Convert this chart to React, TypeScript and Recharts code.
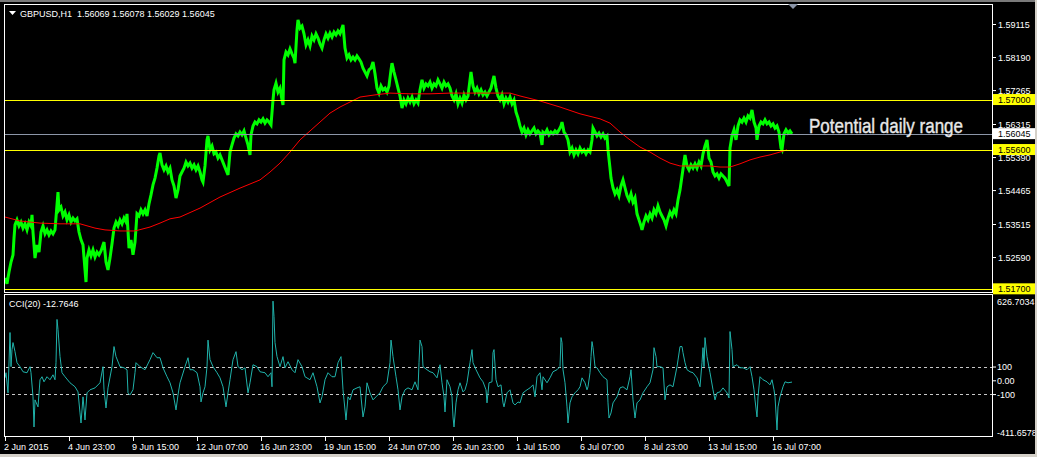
import { ComposedChart, Line, XAxis, YAxis, ReferenceLine } from 'recharts';

// GBPUSD H1 — bar offset (hours on chart) and close price
const priceBars: [number, number][] = [
  [5, 1.52], [7, 1.5184], [9, 1.5217], [11, 1.5245], [13, 1.5265], [14, 1.5312], [15, 1.5349], [17, 1.5363],
  [19, 1.5346], [21, 1.5357], [23, 1.534], [25, 1.5352], [27, 1.5335], [29, 1.5357], [31, 1.5346], [32, 1.5377],
  [33, 1.5329], [35, 1.5256], [37, 1.5293], [39, 1.5273], [41, 1.5329], [43, 1.5346], [45, 1.5324], [47, 1.5335],
  [49, 1.5321], [51, 1.5332], [53, 1.5324], [55, 1.5335], [57, 1.5405], [58, 1.5441], [59, 1.5391], [61, 1.5399],
  [63, 1.5374], [65, 1.5385], [67, 1.5363], [69, 1.5377], [71, 1.5357], [73, 1.5368], [75, 1.536], [77, 1.5366],
  [79, 1.5329], [81, 1.5307], [83, 1.5293], [85, 1.5223], [86, 1.5189], [87, 1.5256], [89, 1.5279], [91, 1.5262],
  [93, 1.5279], [95, 1.5259], [97, 1.5273], [99, 1.5265], [101, 1.5276], [103, 1.5293], [104, 1.5301], [106, 1.5245],
  [108, 1.5223], [110, 1.5256], [112, 1.5296], [114, 1.534], [116, 1.5357], [118, 1.5346], [120, 1.5363], [122, 1.5352],
  [124, 1.5368], [126, 1.5357], [127, 1.538], [129, 1.5284], [131, 1.5307], [133, 1.5265], [135, 1.5301], [137, 1.538],
  [139, 1.5374], [141, 1.5391], [143, 1.538], [145, 1.5391], [147, 1.5374], [149, 1.5408], [151, 1.5433], [153, 1.5461],
  [155, 1.548], [157, 1.5508], [159, 1.5542], [160, 1.555], [162, 1.5517], [164, 1.5503], [166, 1.5514], [168, 1.5497],
  [170, 1.5508], [172, 1.5475], [174, 1.5458], [176, 1.5424], [178, 1.5447], [180, 1.5486], [182, 1.5497], [184, 1.5508],
  [186, 1.5525], [188, 1.5514], [190, 1.5522], [192, 1.5508], [194, 1.5517], [196, 1.5503], [198, 1.5514], [200, 1.5497],
  [202, 1.5475], [203, 1.5469], [205, 1.5514], [207, 1.5587], [208, 1.5598], [210, 1.5559], [212, 1.557], [214, 1.5548],
  [216, 1.5553], [218, 1.5536], [220, 1.5545], [222, 1.5531], [224, 1.5517], [226, 1.5503], [228, 1.5489], [230, 1.5553],
  [232, 1.5573], [234, 1.5592], [236, 1.5604], [238, 1.5598], [240, 1.5609], [242, 1.5601], [244, 1.5612], [246, 1.5592],
  [248, 1.5573], [250, 1.5545], [251, 1.5601], [253, 1.5626], [255, 1.5637], [257, 1.5632], [259, 1.5643], [261, 1.5637],
  [263, 1.5646], [265, 1.5634], [267, 1.5643], [269, 1.5637], [271, 1.5629], [273, 1.5699], [274, 1.5727], [276, 1.5746],
  [278, 1.5721], [280, 1.5732], [282, 1.5699], [283, 1.5685], [284, 1.5811], [286, 1.5833], [288, 1.5825], [290, 1.5842],
  [292, 1.5828], [294, 1.5816], [295, 1.5802], [297, 1.5895], [298, 1.5923], [300, 1.59], [302, 1.5906], [304, 1.5884],
  [306, 1.5853], [308, 1.5867], [310, 1.585], [312, 1.5878], [314, 1.5867], [316, 1.5884], [318, 1.5872], [320, 1.5856],
  [322, 1.5844], [324, 1.5867], [326, 1.5884], [328, 1.5872], [330, 1.5886], [332, 1.5875], [334, 1.5889], [336, 1.5881],
  [338, 1.5892], [340, 1.5884], [342, 1.59], [343, 1.5909], [345, 1.5844], [347, 1.5816], [349, 1.5825], [351, 1.5811],
  [353, 1.5819], [355, 1.5811], [357, 1.5822], [359, 1.5814], [361, 1.5805], [363, 1.5788], [365, 1.5777], [367, 1.5766],
  [369, 1.5783], [371, 1.5788], [373, 1.5805], [375, 1.5772], [377, 1.5732], [379, 1.5718], [381, 1.5738], [383, 1.5727],
  [385, 1.5732], [387, 1.5721], [389, 1.5738], [391, 1.5783], [392, 1.5802], [394, 1.5777], [396, 1.5755], [398, 1.5732],
  [400, 1.571], [402, 1.5676], [404, 1.5699], [406, 1.5688], [408, 1.5704], [410, 1.5693], [412, 1.5707], [414, 1.5688],
  [416, 1.5699], [418, 1.569], [420, 1.5727], [422, 1.5755], [424, 1.5732], [426, 1.5744], [428, 1.5738], [430, 1.5749],
  [432, 1.5732], [434, 1.5744], [436, 1.5738], [438, 1.5755], [440, 1.5744], [442, 1.5732], [444, 1.5749], [446, 1.5738],
  [448, 1.5744], [450, 1.5732], [452, 1.571], [454, 1.5699], [456, 1.5716], [458, 1.5688], [460, 1.5704], [462, 1.569],
  [464, 1.5713], [466, 1.5699], [468, 1.571], [470, 1.5755], [471, 1.5777], [473, 1.5738], [475, 1.5721], [477, 1.5732],
  [479, 1.5716], [481, 1.5727], [483, 1.5713], [485, 1.5721], [487, 1.571], [489, 1.5721], [491, 1.5732], [493, 1.5755],
  [494, 1.5766], [496, 1.5732], [498, 1.571], [500, 1.5699], [502, 1.5713], [504, 1.5688], [506, 1.5704], [508, 1.5693],
  [510, 1.5707], [512, 1.5688], [514, 1.5699], [516, 1.5665], [518, 1.5648], [520, 1.5626], [522, 1.5609], [524, 1.562],
  [526, 1.5601], [528, 1.5615], [530, 1.5604], [532, 1.5612], [534, 1.562], [536, 1.5604], [538, 1.5612], [540, 1.5606],
  [542, 1.5573], [543, 1.5609], [545, 1.5604], [547, 1.5615], [549, 1.5601], [551, 1.5609], [553, 1.5604], [555, 1.5612],
  [557, 1.5606], [559, 1.5615], [561, 1.5626], [562, 1.5637], [564, 1.5609], [566, 1.5601], [568, 1.5587], [570, 1.5553],
  [572, 1.5564], [574, 1.5545], [576, 1.5559], [578, 1.5548], [580, 1.5564], [582, 1.5553], [584, 1.5559], [586, 1.5548],
  [588, 1.5559], [590, 1.5553], [592, 1.5587], [593, 1.562], [595, 1.5609], [597, 1.5598], [599, 1.5606], [601, 1.5595],
  [603, 1.5604], [605, 1.5592], [607, 1.5598], [608, 1.5559], [610, 1.5508], [611, 1.548], [613, 1.5453], [615, 1.5436],
  [617, 1.5447], [619, 1.5431], [621, 1.5458], [623, 1.5475], [625, 1.5453], [627, 1.5431], [629, 1.5419], [631, 1.5436],
  [633, 1.5413], [635, 1.5425], [637, 1.538], [639, 1.5363], [641, 1.5346], [642, 1.5335], [644, 1.5357], [646, 1.5374],
  [648, 1.5363], [650, 1.538], [652, 1.5368], [654, 1.5391], [656, 1.538], [658, 1.5402], [660, 1.5385], [662, 1.5374],
  [664, 1.5363], [666, 1.5346], [668, 1.5368], [670, 1.5385], [672, 1.5374], [674, 1.5391], [676, 1.538], [678, 1.5419],
  [680, 1.5447], [682, 1.5486], [684, 1.5525], [685, 1.5545], [687, 1.5514], [689, 1.5503], [691, 1.5517], [693, 1.5508],
  [695, 1.552], [697, 1.5508], [699, 1.5525], [701, 1.5514], [703, 1.5548], [705, 1.557], [707, 1.5587], [709, 1.5536],
  [711, 1.5525], [713, 1.5497], [715, 1.5486], [717, 1.5492], [719, 1.548], [721, 1.5492], [723, 1.5486], [725, 1.548],
  [727, 1.5469], [729, 1.5458], [730, 1.5564], [732, 1.5598], [734, 1.5615], [736, 1.5587], [738, 1.5626], [740, 1.5643],
  [742, 1.5637], [744, 1.5648], [746, 1.5637], [748, 1.5654], [750, 1.5648], [752, 1.5671], [754, 1.5637], [756, 1.562],
  [757, 1.5587], [759, 1.5626], [761, 1.5637], [763, 1.5632], [765, 1.5643], [767, 1.5632], [769, 1.5637], [771, 1.5626],
  [773, 1.5632], [775, 1.562], [777, 1.5626], [779, 1.5609], [781, 1.5564], [782, 1.5559], [784, 1.5604], [786, 1.5615],
  [788, 1.5606], [790, 1.5612], [792, 1.5604],
];

// red moving average
const maBars: [number, number][] = [
  [5, 1.5371], [20, 1.536], [40, 1.5354], [60, 1.5352], [80, 1.5352], [95, 1.534], [105, 1.5335], [120, 1.5332],
  [135, 1.5332], [150, 1.5343], [160, 1.5354], [170, 1.5366], [180, 1.5371], [200, 1.5396], [220, 1.5427], [240, 1.5452],
  [260, 1.5475], [270, 1.5497], [280, 1.5522], [290, 1.5553], [300, 1.5587], [310, 1.5612], [320, 1.5637], [330, 1.5662],
  [340, 1.5679], [350, 1.5693], [360, 1.5707], [375, 1.5713], [390, 1.5718], [410, 1.5716], [430, 1.5716], [450, 1.5718],
  [470, 1.5718], [490, 1.5718], [510, 1.5718], [520, 1.571], [540, 1.5696], [560, 1.5679], [580, 1.566], [600, 1.5646],
  [610, 1.5634], [620, 1.5609], [630, 1.5587], [640, 1.5567], [650, 1.5553], [660, 1.5536], [670, 1.5522], [680, 1.5514],
  [690, 1.5514], [700, 1.5514], [710, 1.5514], [720, 1.5511], [730, 1.5511], [740, 1.552], [750, 1.5531], [760, 1.5539],
  [770, 1.5545], [780, 1.5553], [787, 1.5559],
];

// CCI(20)
const cciBars: [number, number][] = [
  [5, 18], [6, 55], [8, -91], [10, 347], [11, 99], [12, 223], [13, 274], [15, 208], [17, 128], [20, 99], [23, 62],
  [27, 55], [30, 99], [31, 55], [33, -120], [34, -339], [35, -142], [38, -193], [40, 4], [42, 26], [44, -11], [47, 26],
  [50, 4], [53, 40], [55, 4], [56, 128], [57, 442], [58, 369], [60, 172], [62, 55], [65, 26], [70, -18], [75, -47],
  [78, -84], [80, -237], [81, -310], [83, -120], [85, -288], [87, -91], [90, -69], [95, -55], [100, -18], [103, 99],
  [104, -69], [106, -201], [108, -55], [112, 99], [114, 245], [116, 172], [120, 99], [124, 91], [127, 77], [128, -91],
  [130, -106], [133, -69], [135, 55], [136, 128], [140, 99], [145, 77], [150, 150], [153, 201], [157, 164], [160, 164],
  [163, 91], [167, 26], [170, -18], [173, -91], [176, -215], [178, -106], [180, -18], [185, 99], [188, 164], [190, 77],
  [193, 77], [197, 55], [200, -47], [201, -157], [203, -91], [205, -47], [207, 99], [208, 292], [210, 150], [213, 99],
  [217, 55], [220, 18], [223, -47], [226, -193], [228, -91], [230, 4], [233, 150], [236, 208], [238, 99], [242, 77],
  [245, 91], [248, -91], [250, -18], [253, 113], [257, 99], [260, 62], [265, 55], [268, 26], [271, 55], [272, -47],
  [273, 575], [274, 464], [275, 274], [277, 172], [280, 99], [283, 172], [285, 91], [288, 135], [292, 77], [295, 55],
  [298, 150], [302, 99], [305, 26], [310, 4], [313, 55], [317, -47], [320, -164], [322, -120], [325, 4], [328, 55],
  [332, 26], [335, 26], [338, 128], [341, 172], [343, -69], [344, -142], [346, -288], [348, -120], [350, -142], [353, -69],
  [357, -55], [360, -47], [363, -266], [365, -193], [367, -18], [370, -91], [373, -142], [376, -120], [380, -91],
  [383, -47], [387, -18], [390, 128], [391, 292], [393, 172], [396, 26], [398, -69], [400, -215], [402, -120], [405, -69],
  [408, -55], [412, -69], [415, -11], [418, -69], [419, 128], [420, 292], [422, 245], [423, 99], [427, 77], [430, 62],
  [433, 55], [437, 18], [440, 113], [442, -18], [444, -120], [445, -230], [447, 4], [450, -47], [452, -120], [453, -266],
  [454, -339], [456, -164], [458, -69], [460, -18], [463, -84], [465, -69], [467, -18], [470, 128], [472, 223], [473, 128],
  [476, 77], [480, 18], [483, -11], [486, -69], [487, -164], [489, -18], [492, -11], [493, 201], [494, 223], [496, 4],
  [498, -47], [501, -33], [503, -164], [504, -193], [507, -91], [510, -69], [513, -164], [515, -179], [518, -157],
  [520, -164], [523, -91], [527, -69], [530, -55], [533, -33], [535, -120], [537, 26], [540, 55], [542, -69], [543, 26],
  [547, -18], [550, 18], [553, 62], [557, 77], [560, 99], [561, 310], [562, 274], [563, 77], [565, -18], [567, -193],
  [568, -310], [570, -164], [572, -120], [575, -91], [578, -69], [580, -47], [582, 18], [585, -18], [587, -69], [588, -47],
  [590, 55], [591, 172], [592, 281], [593, 237], [595, 99], [597, 91], [600, 55], [603, 26], [607, 4], [608, -164],
  [609, -274], [611, -237], [613, -164], [617, -120], [620, -55], [623, -47], [627, -69], [630, 26], [631, 77], [633, -142],
  [635, -274], [637, -164], [640, -142], [643, -91], [647, -47], [650, -18], [653, 77], [654, 237], [656, 172], [657, 99],
  [660, 99], [663, 91], [665, -142], [667, -47], [670, -33], [673, -47], [677, 99], [680, 245], [682, 245], [683, 201],
  [685, 128], [687, 77], [690, 62], [693, 55], [697, 18], [700, -47], [702, 128], [703, 237], [704, 99], [705, 310],
  [707, 172], [710, 55], [713, -69], [715, -142], [717, -91], [720, -84], [723, -55], [727, -91], [729, -128], [730, 354],
  [732, 223], [733, 99], [737, 113], [740, 91], [743, 91], [747, 77], [750, 99], [752, 26], [754, -69], [755, -142],
  [757, -266], [758, -120], [760, 26], [763, 4], [767, -11], [770, -33], [772, 4], [774, -69], [775, -120], [777, -361],
  [778, -193], [780, -120], [783, -47], [785, -11], [788, -18], [792, -12.7646],
];

const priceTicks = [1.59115, 1.5819, 1.57265, 1.56315, 1.5539, 1.54465, 1.53515, 1.5259];
const levelPrices = [1.57, 1.556, 1.517];
const bidPrice = 1.56045;
const cciTicks = [626.7034, 100, 0, -100, -411.6578];
const cciTickLabels = ['626.7034', '100', '0.00', '-100', '-411.6578'];
const cciLevels = [100, -100];
const timeTicks = [5, 69, 133, 197, 261, 325, 389, 453, 517, 581, 645, 709, 773];
const timeLabels = [
  '2 Jun 2015', '4 Jun 23:00', '9 Jun 15:00', '12 Jun 07:00', '16 Jun 23:00', '19 Jun 15:00', '24 Jun 07:00',
  '26 Jun 23:00', '1 Jul 15:00', '6 Jul 07:00', '8 Jul 23:00', '13 Jul 15:00', '16 Jul 07:00',
];

const FONT = "'Liberation Sans', Arial, sans-serif";
const X_DOMAIN: [number, number] = [4, 993];

const priceData = priceBars.map(([bar, close]) => ({ bar, close }));
const maData = maBars.map(([bar, ma]) => ({ bar, ma }));
const cciData = cciBars.map(([bar, cci]) => ({ bar, cci }));

// snap a horizontal line onto a whole pixel row so 1px lines keep their colour
function crispLine(color: string, dash?: string) {
  return (p: any) => {
    const y = Math.round(p.y1) + 0.5;
    return <line x1={p.x1} x2={p.x2} y1={y} y2={y} stroke={color} strokeWidth={1} strokeDasharray={dash} />;
  };
}

function PriceTick(props: any) {
  const { x, y, payload } = props;
  const v: number = payload.value;
  const isLevel = levelPrices.includes(v);
  const isBid = v === bidPrice;
  const boxed = isLevel || isBid;
  return (
    <g>
      {boxed ? (
        <rect x={x} y={y - 5.5} width={42} height={11} fill={isBid ? '#ffffff' : '#ffff00'} />
      ) : (
        <line x1={x} x2={x + 3} y1={y + 0.5} y2={y + 0.5} stroke="#ffffff" />
      )}
      <text x={x + 5} y={y + 3.5} fill={boxed ? '#000000' : '#ffffff'} fontSize={9} fontFamily={FONT}>
        {v.toFixed(5)}
      </text>
    </g>
  );
}

function CciTick(props: any) {
  const { x, y, payload, index } = props;
  const isEdge = index === 0 || index === cciTicks.length - 1;
  const dy = index === 0 ? 7.5 : index === cciTicks.length - 1 ? -5 : 0;
  return (
    <g>
      {!isEdge && <line x1={x} x2={x + 3} y1={y + 0.5} y2={y + 0.5} stroke="#ffffff" />}
      <text x={x + 4} y={y + dy + 3.5} fill="#ffffff" fontSize={9} fontFamily={FONT}>
        {cciTickLabels[index] ?? String(payload.value)}
      </text>
    </g>
  );
}

function TimeTick(props: any) {
  const { x, y, index } = props;
  return (
    <g>
      <line x1={x + 0.5} x2={x + 0.5} y1={y} y2={y + 4} stroke="#ffffff" />
      <text x={x - 1} y={y + 12.5} fill="#ffffff" fontSize={9} fontFamily={FONT}>
        {timeLabels[index]}
      </text>
    </g>
  );
}

export default function App() {
  return (
    <div style={{ position: 'absolute', left: 0, top: 0, width: 1037, height: 457, background: '#000000', overflow: 'hidden' }}>
      <div style={{ position: 'absolute', left: 0, top: 0 }}>
        <ComposedChart width={1037} height={300} margin={{ top: 4, right: 0, left: 4, bottom: 8 }}>
          <XAxis type="number" dataKey="bar" domain={X_DOMAIN} hide allowDataOverflow />
          <YAxis
            type="number"
            orientation="right"
            domain={[1.51611, 1.59675]}
            ticks={[...priceTicks, ...levelPrices, bidPrice]}
            tick={PriceTick}
            interval={0}
            width={44}
            tickSize={0}
            tickMargin={0}
            axisLine={false}
            tickLine={false}
            allowDataOverflow
          />
          <Line data={priceData} dataKey="close" stroke="#00ff00" strokeWidth={3} dot={false} isAnimationActive={false} />
          <Line data={maData} dataKey="ma" stroke="#ff0000" strokeWidth={1} dot={false} isAnimationActive={false} />
          {levelPrices.map((p) => (
            <ReferenceLine key={p} y={p} stroke="#ffff00" shape={crispLine('#ffff00')} />
          ))}
          <ReferenceLine y={bidPrice} stroke="#8c96a8" shape={crispLine('#8c96a8')} />
        </ComposedChart>
      </div>

      <div style={{ position: 'absolute', left: 0, top: 290 }}>
        <ComposedChart width={1037} height={167} margin={{ top: 4, right: 0, left: 4, bottom: 0 }}>
          <XAxis
            type="number"
            dataKey="bar"
            domain={X_DOMAIN}
            ticks={timeTicks}
            tick={TimeTick}
            interval={0}
            height={20}
            tickSize={0}
            tickMargin={0}
            axisLine={false}
            tickLine={false}
            allowDataOverflow
          />
          <YAxis
            type="number"
            orientation="right"
            domain={[-411.6578, 626.7034]}
            ticks={cciTicks}
            tick={CciTick}
            interval={0}
            width={44}
            tickSize={0}
            tickMargin={0}
            axisLine={false}
            tickLine={false}
            allowDataOverflow
          />
          {cciLevels.map((l) => (
            <ReferenceLine key={l} y={l} stroke="#c8c8c8" shape={crispLine('#c8c8c8', '3 3')} />
          ))}
          <Line data={cciData} dataKey="cci" stroke="#20b2aa" strokeWidth={1} dot={false} isAnimationActive={false} />
        </ComposedChart>
      </div>

      <svg width={1037} height={457} style={{ position: 'absolute', left: 0, top: 0, pointerEvents: 'none' }}>
        <rect x={0} y={0} width={1037} height={2} fill="#7a7a7a" />
        <rect x={0} y={454} width={1037} height={3} fill="#d4d0c8" />
        <rect x={1035} y={0} width={2} height={457} fill="#d4d0c8" />
        <rect x={4.5} y={4.5} width={988} height={288} fill="none" stroke="#ffffff" />
        <rect x={4.5} y={294.5} width={988} height={142} fill="none" stroke="#ffffff" />
        <polygon points="788,4 798,4 793,9" fill="#8c96a8" />
        <polygon points="9,11 16,11 12.5,15" fill="#ffffff" />
        <text x={20} y={17} fill="#ffffff" fontSize={9} fontFamily={FONT} style={{ whiteSpace: 'pre' }}>
          {'GBPUSD,H1  1.56069 1.56078 1.56029 1.56045'}
        </text>
        <text x={9} y={307} fill="#ffffff" fontSize={9} fontFamily={FONT} style={{ whiteSpace: 'pre' }}>
          {'CCI(20) -12.7646'}
        </text>
        <text
          x={809}
          y={133}
          fill="#e8e8e8"
          stroke="#e8e8e8"
          strokeWidth={0.4}
          fontSize={21}
          fontFamily={FONT}
          textLength={154}
          lengthAdjust="spacingAndGlyphs"
        >
          Potential daily range
        </text>
      </svg>
    </div>
  );
}
